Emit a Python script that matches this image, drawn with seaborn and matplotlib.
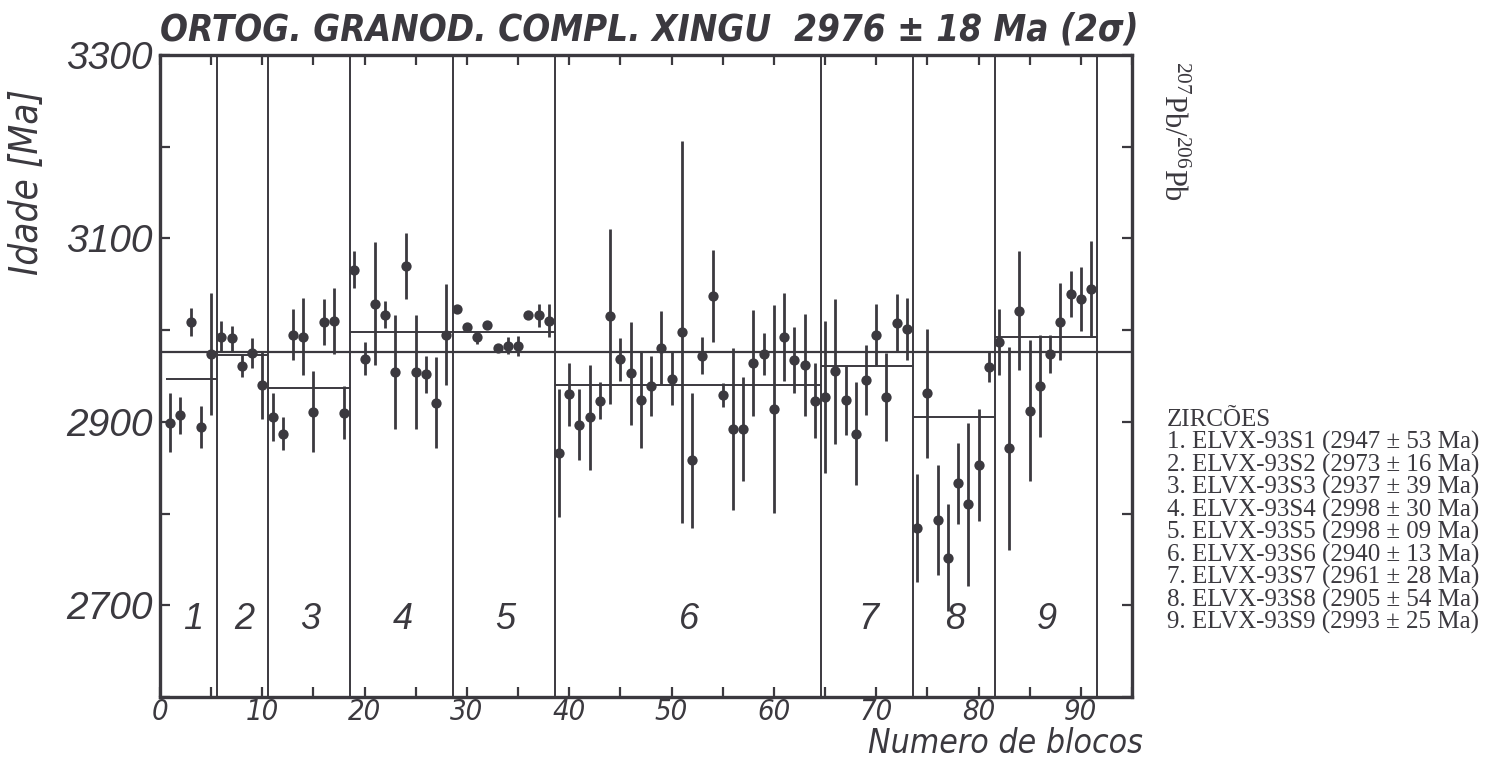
import numpy as np
import pandas as pd
import matplotlib
matplotlib.use('Agg')
import matplotlib.pyplot as plt
import seaborn as sns
from matplotlib import font_manager
from matplotlib.ticker import MultipleLocator, FixedLocator

# ==========================================
# DADOS
# ==========================================
# idades 207Pb/206Pb por bloco e meia-barra de erro (Ma)
idade = [2899, 2907, 3009, 2894, 2974,
         2993, 2991, 2961, 2975, 2940,
         2905, 2887, 2995, 2993, 2911, 3009, 3010, 2910,
         3066, 2969, 3029, 3017, 2954, 3070, 2954, 2952, 2921, 2995,
         3023, 3003, 2992, 3006, 2981, 2983, 2983, 3016, 3016, 3010,
         2866, 2930, 2897, 2905, 2923, 3015, 2968, 2953, 2924, 2939,
         2981, 2947, 2998, 2858, 2972, 3037, 2929, 2892, 2892, 2964,
         2974, 2914, 2993, 2967, 2962, 2923,
         2927, 2955, 2924, 2887, 2946, 2995, 2927, 3008, 3001,
         2784, 2931, 2793, 2752, 2833, 2810, 2853, 2960,
         2987, 2871, 3021, 2912, 2939, 2974, 3009, 3039, 3034, 3045]
erro = [32, 20, 15, 23, 66,
        17, 14, 12, 16, 37,
        26, 18, 28, 42, 44, 25, 36, 29,
        20, 18, 67, 15, 62, 36, 62, 20, 50, 55,
        4, 4, 7, 4, 4, 9, 11, 4, 13, 18,
        70, 34, 39, 57, 20, 95, 23, 56, 52, 33,
        40, 29, 208, 74, 20, 50, 13, 88, 57, 58,
        23, 113, 48, 36, 56, 41,
        83, 79, 38, 56, 38, 33, 48, 31, 34,
        59, 70, 60, 58, 44, 89, 61, 16,
        36, 111, 65, 77, 56, 21, 42, 25, 35, 52]

# número de blocos medidos em cada zircão
n_blocos = [5, 5, 8, 10, 10, 26, 9, 8, 10]
amostras = ['ELVX-93S1', 'ELVX-93S2', 'ELVX-93S3', 'ELVX-93S4', 'ELVX-93S5',
            'ELVX-93S6', 'ELVX-93S7', 'ELVX-93S8', 'ELVX-93S9']
media_zircao = [2947, 2973, 2937, 2998, 2998, 2940, 2961, 2905, 2993]
erro_zircao = [53, 16, 39, 30, 9, 13, 28, 54, 25]
media_total = 2976
erro_total = 18
rotulos_y = [2700, 2900, 3100, 3300]

df = pd.DataFrame({'bloco': np.arange(1, len(idade) + 1),
                   'idade': idade, 'erro': erro})
df['zircao'] = np.repeat(np.arange(1, len(n_blocos) + 1), n_blocos)

# ==========================================
# ESTILO
# ==========================================
sns.set_theme(style='ticks')
cor = '#3b393f'
nomes = {f.name for f in font_manager.fontManager.ttflist}
estreita = 'Liberation Sans Narrow' if 'Liberation Sans Narrow' in nomes else 'DejaVu Sans'
larga = 'Liberation Sans' if 'Liberation Sans' in nomes else 'DejaVu Sans'
serifa = 'Liberation Serif' if 'Liberation Serif' in nomes else 'DejaVu Serif'
plt.rcParams['font.family'] = [larga, 'DejaVu Sans']
plt.rcParams['mathtext.fontset'] = 'custom'
plt.rcParams['mathtext.rm'] = serifa
plt.rcParams['text.color'] = cor

fig = plt.figure(figsize=(14.91, 7.61), dpi=100)
ax = fig.add_axes([160 / 1491, 1 - 697 / 761, 972 / 1491, 642 / 761])
renderer = fig.canvas.get_renderer()


def ajusta(txt, alvo, vertical=False):
    # escala a fonte para o texto ocupar 'alvo' pixels
    bb = txt.get_window_extent(renderer)
    medida = bb.height if vertical else bb.width
    txt.set_fontsize(txt.get_fontsize() * alvo / medida)


# barras de erro e pontos
ax.vlines(df['bloco'], df['idade'] - df['erro'], df['idade'] + df['erro'],
          color=cor, lw=2.0, zorder=2)
sns.scatterplot(data=df, x='bloco', y='idade', color=cor, s=55,
                linewidth=0, zorder=3, legend=False, ax=ax)

# limites dos zircões e médias ponderadas
fim = np.cumsum(n_blocos) + 0.6
inicio = np.concatenate([[0.6], fim[:-1]])
for x in fim:
    ax.axvline(x, color=cor, lw=1.4, zorder=1)
ax.hlines(media_zircao, inicio, fim, color=cor, lw=1.4, zorder=1)
ax.axhline(media_total, color=cor, lw=1.6, zorder=1)

centros = df.groupby('zircao')['bloco'].mean()
for z, xc in centros.items():
    ax.text(xc + 0.2, 2684, str(z), ha='center', va='center',
            fontsize=26, style='italic', family=[larga, 'DejaVu Sans'], color=cor)

ax.set_xlim(0, 95)
ax.set_ylim(2600, 3300)
ax.xaxis.set_major_locator(MultipleLocator(10))
ax.xaxis.set_minor_locator(MultipleLocator(5))
ax.yaxis.set_major_locator(FixedLocator(rotulos_y))
ax.yaxis.set_minor_locator(MultipleLocator(100))
ax.tick_params(which='both', direction='in', length=7, width=1.6, color=cor,
               top=True, right=True)
ax.tick_params(axis='x', which='major', pad=0.5)
ax.tick_params(axis='y', which='major', pad=5)
for lab in ax.get_xticklabels():
    lab.set_family([estreita, 'DejaVu Sans'])
    lab.set_stretch('condensed')
    lab.set_style('italic')
    lab.set_fontsize(21)
    lab.set_color(cor)
for lab in ax.get_yticklabels():
    lab.set_family([larga, 'DejaVu Sans'])
    lab.set_style('italic')
    lab.set_fontsize(28)
    lab.set_color(cor)
for s in ax.spines.values():
    s.set_linewidth(2.4)
    s.set_color(cor)
ax.set_xlabel('')
ax.set_ylabel('')

# títulos e rótulos
titulo = f'ORTOG. GRANOD. COMPL. XINGU  {media_total} ± {erro_total} Ma (2σ)'
t = fig.text(0.4355, 1 - 30 / 761, titulo, ha='center', va='center', fontsize=30,
             style='italic', weight='bold', stretch='condensed',
             family=[estreita, 'DejaVu Sans'], color=cor)
ajusta(t, 977)
t = fig.text(1143 / 1491, 1 - 760 / 761, 'Numero de blocos', ha='right', va='bottom',
             fontsize=26, style='italic', stretch='condensed',
             family=[estreita, 'DejaVu Sans'], color=cor)
ajusta(t, 275)
t = fig.text(27 / 1491, 1 - 182 / 761, 'Idade [Ma]', ha='center', va='center',
             rotation=90, fontsize=26, style='italic', stretch='condensed',
             family=[estreita, 'DejaVu Sans'], color=cor)
ajusta(t, 186, vertical=True)
fig.text(1172 / 1491, 1 - 131 / 761, r'$^{207}$Pb/$^{206}$Pb', ha='center',
         va='center', rotation=270, fontsize=22, family=[serifa], color=cor)

# lista dos zircões
fig.text(1167 / 1491, 1 - 420 / 761, 'ZIRCÕES', ha='left', va='center',
         fontsize=18, family=[serifa], color=cor)
for i, (nome, m, e) in enumerate(zip(amostras, media_zircao, erro_zircao)):
    fig.text(1167 / 1491, 1 - (442.5 + 22.5 * i) / 761,
             f'{i + 1}. {nome} ({m} ± {e:02d} Ma)', ha='left', va='center',
             fontsize=18, family=[serifa], color=cor)

fig.savefig('out.png', dpi=100, facecolor='white')
